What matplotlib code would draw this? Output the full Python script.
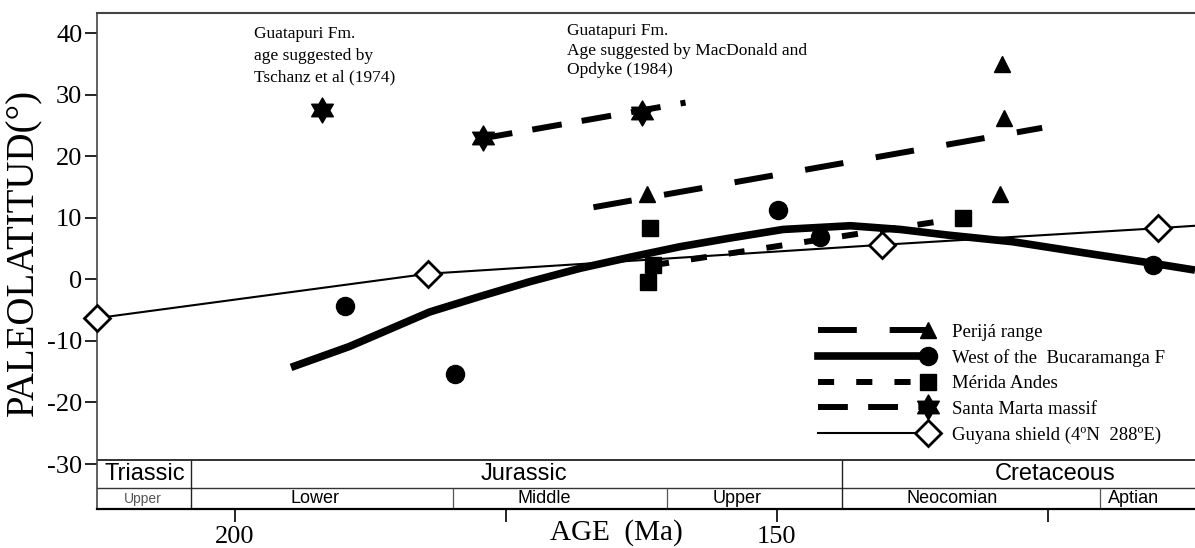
import numpy as np
import matplotlib
matplotlib.use("Agg")
import matplotlib.pyplot as plt
from matplotlib.lines import Line2D
from matplotlib.path import Path
from matplotlib.legend_handler import HandlerLine2D

# values: age (Ma) vs paleolatitude (deg)
perija_age = [162.0, 129.2, 129.0, 129.4]
perija_lat = [13.8, 35.0, 26.2, 13.8]
perija_trend_age = [166.9, 125.5]
perija_trend_lat = [11.7, 24.6]

west_age = [189.8, 179.7, 149.9, 146.0, 115.3]
west_lat = [-4.3, -15.4, 11.3, 6.9, 2.3]
west_trend_age = [194.8, 189.4, 182.0, 177.4, 172.8, 168.1, 163.5, 158.9, 154.3,
                  149.4, 143.2, 138.6, 134.3, 128.2, 122.0, 115.3, 111.4]
west_trend_lat = [-14.3, -10.9, -5.3, -2.8, -0.4, 1.8, 3.6, 5.3, 6.7,
                  8.1, 8.7, 8.1, 7.2, 6.1, 4.4, 2.6, 1.5]

merida_age = [161.4, 161.7, 161.9, 132.8]
merida_lat = [2.3, 8.3, -0.4, 10.0]
merida_trend_age = [161.4, 132.8]
merida_trend_lat = [2.3, 10.0]

santa_marta_age = [191.9, 177.1, 162.4]
santa_marta_lat = [27.5, 22.9, 27.0]
santa_marta_trend_age = [177.1, 158.4]
santa_marta_trend_lat = [22.9, 28.7]

guyana_age = [212.7, 182.2, 140.3, 114.8]
guyana_lat = [-6.3, 0.9, 5.6, 8.3]
guyana_trend_age = [212.7, 182.2, 140.3, 114.8, 111.4]
guyana_trend_lat = [-6.3, 0.9, 5.6, 8.3, 8.7]

# geologic time scale strip at the bottom
period_names = ["Triassic", "Jurassic", "Cretaceous"]
period_label_age = [208.3, 173.3, 124.3]
period_bounds = [204.0, 144.0]
epoch_names = ["Upper", "Lower", "Middle", "Upper", "Neocomian", "Aptian"]
epoch_label_age = [208.5, 192.6, 171.4, 153.6, 133.8, 117.1]
epoch_bounds = [179.9, 160.1, 120.2]

x_ticks = [200, 175, 150, 125]
x_tick_labels = ["200", "", "150", ""]
y_ticks = [-30, -20, -10, 0, 10, 20, 30, 40]

legend_labels = ["Perijá range", "West of the  Bucaramanga F", "Mérida Andes",
                 "Santa Marta massif", "Guyana shield (4ºN  288ºE)"]

XLIM = (212.7, 111.4)
YLIM = (-37.3, 43.25)
STRIP_TOP = -29.35
STRIP_MID = -33.9

plt.rcParams["font.family"] = ["Liberation Serif", "DejaVu Serif"]
plt.rcParams["axes.unicode_minus"] = False


class HandlerEndMarker(HandlerLine2D):
    # line sample with the marker sitting at its right end
    def create_artists(self, legend, orig_handle, xdescent, ydescent,
                       width, height, fontsize, trans):
        y = (height - ydescent) / 2
        line = Line2D([-xdescent, -xdescent + width], [y, y])
        self.update_prop(line, orig_handle, legend)
        line.set_marker("")
        mark = Line2D([-xdescent + width], [y])
        self.update_prop(mark, orig_handle, legend)
        mark.set_linestyle("None")
        line.set_transform(trans)
        mark.set_transform(trans)
        return [line, mark]


def hexagram():
    n = np.arange(12)
    ang = np.deg2rad(90 + 30 * n)
    r = np.where(n % 2 == 0, 1.0, 0.577)
    verts = np.column_stack([r * np.cos(ang), r * np.sin(ang)])
    verts = np.vstack([verts, verts[:1]])
    codes = [Path.MOVETO] + [Path.LINETO] * 11 + [Path.CLOSEPOLY]
    return Path(verts, codes)


STAR = hexagram()

styles = {
    "perija": dict(color="k", lw=4.3, ls=(0, (6.5, 5.5)), marker="^", ms=12),
    "west": dict(color="k", lw=5.5, ls="-", marker="o", ms=13),
    "merida": dict(color="k", lw=4.3, ls=(0, (2.7, 3.7)), marker="s", ms=11),
    "santa": dict(color="k", lw=4.3, ls=(0, (5.0, 3.4)), marker=STAR, ms=18),
    "guyana": dict(color="k", lw=1.5, ls="-", marker="D", ms=13.5,
                   mfc="white", mec="k", mew=2),
}


def draw(ax, key, trend_x, trend_y, pts_x, pts_y):
    st = dict(styles[key])
    marker_kw = {k: st.pop(k) for k in ["marker", "ms", "mfc", "mec", "mew"] if k in st}
    ax.plot(trend_x, trend_y, color=st["color"], lw=st["lw"], ls=st["ls"],
            solid_capstyle="butt", dash_capstyle="butt", zorder=2)
    ax.plot(pts_x, pts_y, ls="none", color="k", zorder=4, clip_on=False, **marker_kw)


fig = plt.figure(figsize=(11.95, 5.48), dpi=100)
ax = fig.add_axes([97 / 1195, 39 / 548, 1098 / 1195, 496 / 548])

draw(ax, "guyana", guyana_trend_age, guyana_trend_lat, guyana_age, guyana_lat)
draw(ax, "west", west_trend_age, west_trend_lat, west_age, west_lat)
draw(ax, "merida", merida_trend_age, merida_trend_lat, merida_age, merida_lat)
draw(ax, "perija", perija_trend_age, perija_trend_lat, perija_age, perija_lat)
draw(ax, "santa", santa_marta_trend_age, santa_marta_trend_lat,
     santa_marta_age, santa_marta_lat)

ax.set_xlim(*XLIM)
ax.set_ylim(*YLIM)

# time scale strip
ax.axhline(STRIP_TOP, color="#222222", lw=1.3, zorder=1)
ax.axhline(STRIP_MID, color="#333333", lw=1.0, zorder=1)
ax.vlines(period_bounds, YLIM[0], STRIP_TOP, color="#222222", lw=1.0, zorder=1)
ax.vlines(epoch_bounds, YLIM[0], STRIP_MID, color="#555555", lw=0.9, zorder=1)
for name, age in zip(period_names, period_label_age):
    ax.text(age, (STRIP_TOP + STRIP_MID) / 2, name, family="Liberation Sans",
            fontsize=17, ha="center", va="center")
for i, (name, age) in enumerate(zip(epoch_names, epoch_label_age)):
    small = i == 0
    ax.text(age, (STRIP_MID + YLIM[0]) / 2, name, family="Liberation Sans",
            fontsize=10 if small else 13, color="#555555" if small else "k",
            ha="center", va="center")

# annotations
ax.text(198.2, 41.1, "Guatapuri Fm.\nage suggested by\nTschanz et al (1974)",
        fontsize=12.5, ha="left", va="top", linespacing=1.45)
ax.text(169.3, 41.6, "Guatapuri Fm.\nAge suggested by MacDonald and\nOpdyke (1984)",
        fontsize=12.5, ha="left", va="top", linespacing=1.3)

# axes cosmetics
ax.spines["right"].set_visible(False)
ax.spines["top"].set_color("#444444")
ax.spines["top"].set_linewidth(1.5)
ax.spines["left"].set_color("#444444")
ax.spines["left"].set_linewidth(1.2)
ax.spines["bottom"].set_color("k")
ax.spines["bottom"].set_linewidth(1.6)

ax.set_xticks(x_ticks)
ax.set_xticklabels(x_tick_labels)
ax.set_yticks(y_ticks)
ax.set_yticklabels([str(v) for v in y_ticks])
ax.tick_params(axis="x", direction="out", length=9.5, width=1.2, pad=3, labelsize=19)
ax.tick_params(axis="y", direction="out", length=8.5, width=1.2, pad=2, labelsize=19)

ax.text(0.473, -0.048, "AGE  (Ma)", transform=ax.transAxes, fontsize=21,
        ha="center", va="center")
fig.text(23.5 / 1195, 1 - 252.5 / 548, "PALEOLATITUD(°)", rotation=90,
         fontsize=28, ha="center", va="center")

# legend with marker at the end of each line sample
handles = []
for key in ["perija", "west", "merida", "santa", "guyana"]:
    st = styles[key]
    handles.append(Line2D([], [], color=st["color"], lw=st["lw"], ls=st["ls"],
                          marker=st["marker"], ms=st["ms"],
                          mfc=st.get("mfc", "k"), mec=st.get("mec", "k"),
                          mew=st.get("mew", 1.0), dash_capstyle="butt"))
ax.legend(handles, legend_labels, loc="upper left", bbox_to_anchor=(0.6567, 0.374),
          frameon=False, handlelength=5.87, handletextpad=1.28, labelspacing=0.45,
          borderpad=0, borderaxespad=0, prop=dict(family="Liberation Serif", size=13.5),
          handler_map={Line2D: HandlerEndMarker()})

fig.savefig("out.png", dpi=100)
